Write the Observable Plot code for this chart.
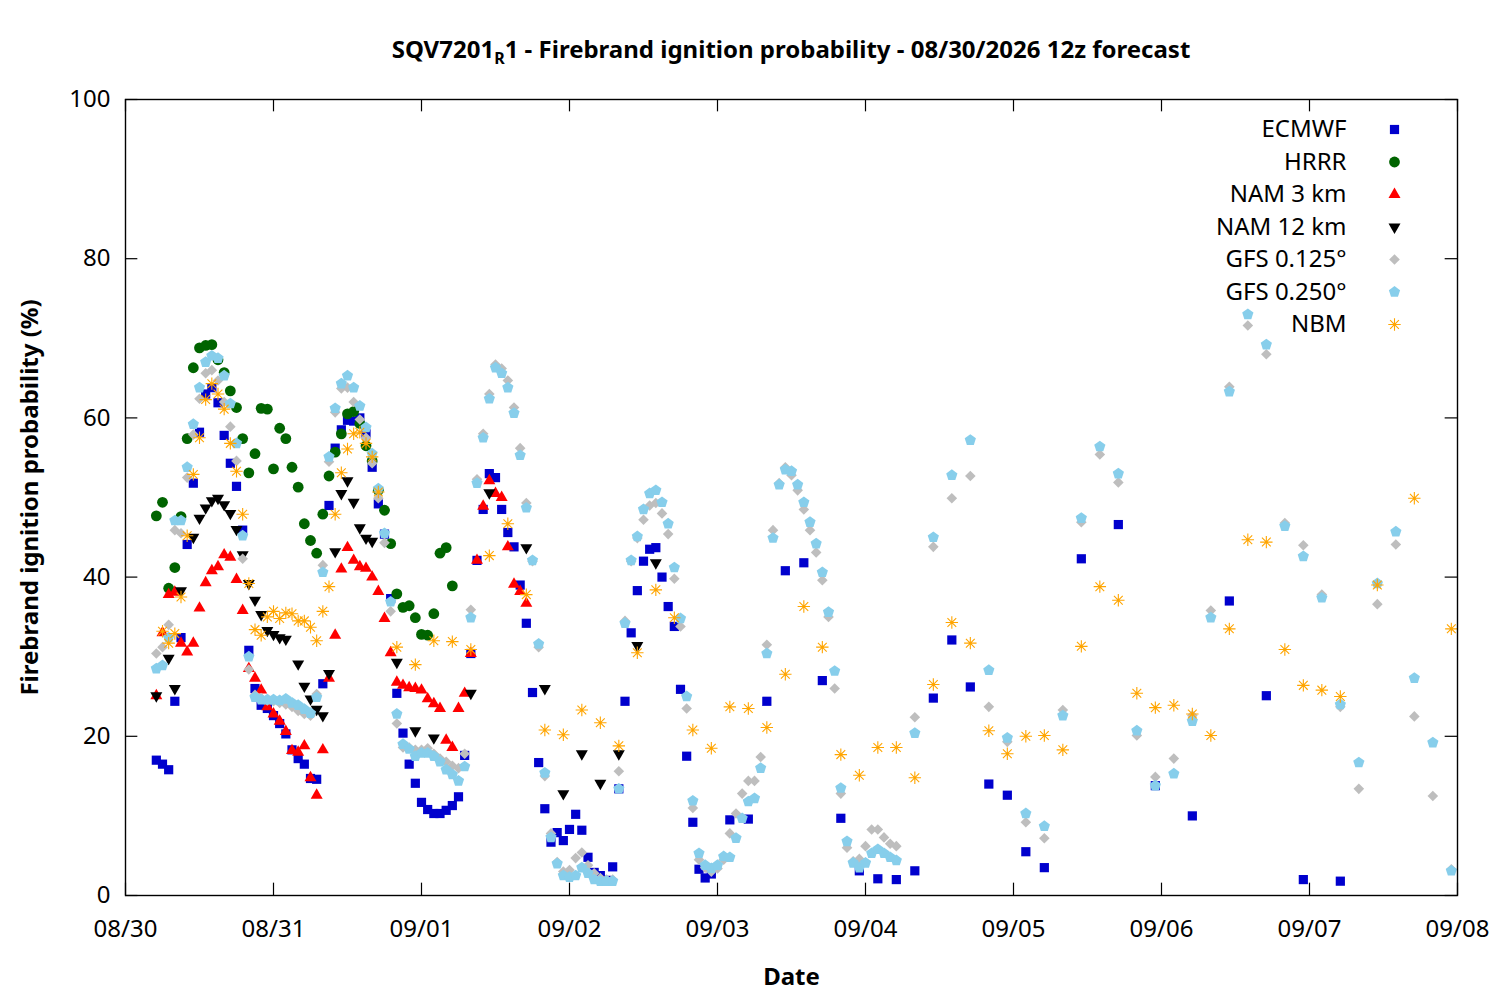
<!DOCTYPE html>
<html><head><meta charset="utf-8">
<script src="https://cdn.jsdelivr.net/npm/d3@7"></script>
<script src="https://cdn.jsdelivr.net/npm/@observablehq/plot@0.6"></script>
<style>body{margin:0;background:#fff;} #chart svg{display:block;}</style>
</head><body><div id="chart"></div>
<script>
// ---------- data (hours after 08/30 05:00, i.e. 12z init) ----------
const ecmwfHours = [...d3.range(0, 91), ...d3.range(93, 145, 3), ...d3.range(150, 193, 6)];
const ecmwfValues = [17.0,16.5,15.8,24.4,32.4,44.1,51.8,58.2,63.0,63.8,
  61.9,57.8,54.3,51.4,45.9,30.8,26.0,23.9,23.5,22.6,
  21.6,20.3,18.3,17.2,16.5,14.7,14.6,26.6,49.0,56.2,
  58.5,59.7,59.6,60.0,58.0,53.8,49.2,45.4,37.3,25.4,
  20.4,16.5,14.1,11.7,10.8,10.3,10.3,10.7,11.3,12.4,
  17.6,30.4,42.1,48.5,53.0,52.5,48.5,45.6,43.8,39.0,
  34.2,25.5,16.7,10.9,6.7,7.9,6.9,8.3,10.2,8.2,
  4.8,2.9,2.5,1.9,3.6,13.4,24.4,33.0,38.3,42.0,
  43.5,43.7,40.0,36.3,33.8,25.9,17.5,9.2,3.3,2.2,2.7,
  9.5,9.6,24.4,40.8,41.8,27.0,9.7,3.1,2.1,2.0,3.1,24.8,32.1,26.2,14.0,12.6,5.5,3.5,
  42.3,46.6,13.8,10.0,37.0,25.1,2.0,1.8];

const hrrrHours = d3.range(0, 49);
const hrrrValues = [47.7,49.4,38.6,41.2,47.6,57.4,66.3,68.8,69.1,69.2,
  67.3,65.7,63.4,61.3,57.4,53.1,55.5,61.2,61.1,53.6,
  58.7,57.4,53.8,51.3,46.7,44.6,43.0,47.9,52.7,55.7,
  58.0,60.5,60.8,59.3,56.5,54.6,50.9,48.4,44.2,37.9,
  36.2,36.4,34.9,32.8,32.7,35.4,43.0,43.7,38.9];

const nam3Hours = d3.range(0, 61);
const nam3Values = [25.1,33.0,37.8,38.1,31.7,30.6,31.7,36.1,39.3,40.8,
  41.3,42.8,42.5,39.7,35.8,28.5,27.3,25.8,23.7,22.8,
  21.9,20.6,18.2,18.0,18.8,14.8,12.6,18.3,27.3,32.7,
  41.0,43.7,42.1,41.3,41.1,40.0,38.2,34.8,30.5,26.8,
  26.4,26.1,26.0,25.8,24.7,24.1,23.5,19.5,18.6,23.5,
  25.4,30.4,42.1,48.9,52.1,50.5,50.0,43.8,39.1,38.2,36.7];

const nam12Hours = [...d3.range(0, 37), ...d3.range(39, 82, 3)];
const nam12Values = [25.1,null,29.8,26.0,38.3,null,45.0,47.4,48.7,49.6,
  49.9,49.1,48.0,46.0,42.8,39.2,37.1,35.3,33.3,32.8,
  32.4,32.2,null,29.1,26.3,24.7,23.4,22.6,27.9,43.2,
  50.5,52.1,49.4,46.2,44.9,44.5,null,
  29.3,20.7,19.8,null,25.4,50.6,null,43.7,26.0,12.8,17.8,14.1,17.8,31.4,41.8];

const gfsHours = [...d3.range(0, 121), ...d3.range(123, 211, 3)];
const gfs0125Values = [30.4,31.2,34.0,45.9,45.5,52.5,57.9,62.4,65.6,66.0,
  64.7,62.0,58.9,54.6,42.3,28.4,25.2,24.8,24.5,24.4,
  24.2,24.0,23.7,23.2,22.8,22.6,25.3,41.5,54.5,60.7,
  63.7,63.8,62.0,59.8,57.5,54.3,49.9,44.3,35.7,21.6,
  18.6,18.6,18.3,18.3,18.5,17.8,17.2,16.8,16.3,16.0,
  17.8,35.9,52.3,58.0,63.0,66.7,66.2,64.7,61.3,56.2,
  49.3,42.0,31.2,15.0,7.8,4.2,3.0,3.2,4.7,5.4,
  3.8,2.8,2.2,2.0,2.0,15.6,34.5,42.0,44.9,47.2,
  49.0,49.3,48.0,45.4,39.8,33.8,23.5,11.0,4.5,3.5,
  3.0,3.4,4.5,7.8,10.3,12.8,14.4,14.4,17.4,31.5,
  45.9,51.8,53.8,52.8,50.9,48.5,45.9,43.1,39.6,35.0,
  26.0,12.8,6.0,4.3,4.6,6.2,8.3,8.3,7.3,6.5,6.2,
  22.4,43.8,49.9,52.7,23.7,19.3,9.2,7.2,23.3,46.9,
  55.4,51.9,20.1,14.9,17.2,22.6,35.8,63.9,71.6,68.0,
  46.8,44.0,37.8,23.7,13.4,36.6,44.1,22.5,12.5,3.3];
const gfs0250Values = [28.5,28.9,32.4,47.1,47.1,53.8,59.2,63.8,67.0,67.8,
  67.5,65.3,61.8,56.8,45.2,30.0,24.9,24.6,24.6,24.6,
  24.5,24.7,24.2,23.9,23.4,22.9,24.9,40.6,55.1,61.2,
  64.3,65.3,63.8,61.5,58.8,55.5,51.1,45.5,36.9,22.8,
  19.0,18.4,17.5,17.9,17.9,17.5,16.8,15.8,15.2,14.4,
  16.2,34.9,51.8,57.5,62.4,66.3,65.6,63.8,60.6,55.3,
  48.7,42.1,31.6,15.4,7.3,4.0,2.5,2.3,2.5,3.5,
  2.8,2.0,1.8,1.8,1.8,13.4,34.2,42.1,45.1,48.5,
  50.5,50.9,49.4,46.7,41.2,34.8,25.0,11.9,5.3,3.8,
  3.4,3.8,4.9,4.8,7.2,9.7,11.8,12.2,16.0,30.4,
  44.9,51.6,53.5,53.3,51.6,49.4,46.9,44.2,40.6,35.6,
  28.2,13.5,6.8,4.1,3.5,4.1,5.3,5.8,5.3,4.8,4.4,
  20.4,45.0,52.8,57.2,28.3,19.8,10.3,8.7,22.6,47.4,
  56.4,53.0,20.7,13.8,15.3,21.9,34.9,63.3,73.0,69.2,
  46.4,42.6,37.4,24.0,16.7,39.2,45.7,27.3,19.2,3.1];

const nbmHours = [...d3.range(1, 37), ...d3.range(39, 193, 3), 198, 204, 210];
const nbmValues = [33.2,31.7,32.9,37.5,45.2,52.9,57.5,62.3,64.3,63.0,
  61.1,56.8,53.3,47.9,39.2,33.4,32.7,35.0,35.7,34.8,
  35.5,35.4,34.5,34.5,33.7,32.0,35.7,38.8,47.9,53.1,
  56.1,58.0,58.2,56.8,55.1,50.7,
  31.2,29.0,32.0,31.9,30.9,42.7,46.7,37.8,20.8,20.2,
  23.3,21.7,18.8,30.5,38.4,34.9,20.8,18.5,23.7,23.5,
  21.1,27.8,36.3,31.2,17.7,15.1,18.6,18.6,14.8,26.5,
  34.3,31.7,20.7,17.8,20.0,20.1,18.3,31.3,38.8,37.1,
  25.4,23.6,23.9,22.8,20.1,33.5,44.7,44.4,30.9,26.4,
  25.8,25.0,
  39.0,49.9,33.5];

const modelNames = ["ECMWF", "HRRR", "NAM 3 km", "NAM 12 km", "GFS 0.125°", "GFS 0.250°", "NBM"];
const modelColors = ["#0000cd", "#006400", "#ff0000", "#000000", "#bebebe", "#87ceeb", "#ffa500"];
const yTicks = [0, 20, 40, 60, 80, 100];
const xTickLabels = ["08/30","08/31","09/01","09/02","09/03","09/04","09/05","09/06","09/07","09/08"];
const titleMain = "SQV7201";
const titleSub = "R";
const titleRest = "1 - Firebrand ignition probability - 08/30/2026 12z forecast";
const xLabel = "Date";
const yLabel = "Firebrand ignition probability (%)";

// ---------- build ----------
const base = Date.UTC(2026, 7, 30, 5);
const toDate = h => new Date(base + h * 3600e3);
const xStart = new Date(Date.UTC(2026, 7, 30));
const xEnd = new Date(Date.UTC(2026, 8, 8));
const xTicks = xTickLabels.map((_, i) => new Date(Date.UTC(2026, 7, 30 + i)));

function rows(hours, values) {
  return hours.map((h, i) => ({t: toDate(h), v: values[i]})).filter(d => d.v != null);
}
const seriesData = [
  rows(ecmwfHours, ecmwfValues),
  rows(hrrrHours, hrrrValues),
  rows(nam3Hours, nam3Values),
  rows(nam12Hours, nam12Values),
  rows(gfsHours, gfs0125Values),
  rows(gfsHours, gfs0250Values),
  rows(nbmHours, nbmValues)
];

// symbols (r = sqrt(size/PI) is used as half-extent)
const R = size => Math.sqrt(size / Math.PI);
const symSquare = {draw(c, s){ const r = R(s); c.rect(-r, -r, 2*r, 2*r); }};
const symCircle = {draw(c, s){ const r = R(s); c.moveTo(r, 0); c.arc(0, 0, r, 0, 2*Math.PI); }};
const symTriUp = {draw(c, s){ const r = R(s); const h = r * Math.sqrt(3); c.moveTo(0, -h*2/3); c.lineTo(r, h/3); c.lineTo(-r, h/3); c.closePath(); }};
const symTriDown = {draw(c, s){ const r = R(s); const h = r * Math.sqrt(3); c.moveTo(0, h*2/3); c.lineTo(r, -h/3); c.lineTo(-r, -h/3); c.closePath(); }};
const symDiamond = {draw(c, s){ const r = R(s); c.moveTo(0, -r); c.lineTo(r, 0); c.lineTo(0, r); c.lineTo(-r, 0); c.closePath(); }};
const symPentagon = {draw(c, s){ const r = R(s); for (let k = 0; k < 5; k++) { const a = -Math.PI/2 + k*2*Math.PI/5; const x = r*Math.cos(a), y = r*Math.sin(a); if (k) c.lineTo(x, y); else c.moveTo(x, y); } c.closePath(); }};
const symAsterisk = {draw(c, s){ const r = R(s); for (let k = 0; k < 4; k++) { const a = k*Math.PI/4; c.moveTo(r*Math.cos(a), r*Math.sin(a)); c.lineTo(-r*Math.cos(a), -r*Math.sin(a)); } }};

const styles = [
  {symbol: symSquare, r: 4.6, fill: modelColors[0], stroke: "none"},
  {symbol: symCircle, r: 5.4, fill: modelColors[1], stroke: "none"},
  {symbol: symTriUp, r: 6.0, fill: modelColors[2], stroke: "none"},
  {symbol: symTriDown, r: 6.0, fill: modelColors[3], stroke: "none"},
  {symbol: symDiamond, r: 5.3, fill: modelColors[4], stroke: "none"},
  {symbol: symPentagon, r: 5.9, fill: modelColors[5], stroke: "none"},
  {symbol: symAsterisk, r: 6.2, fill: "none", stroke: modelColors[6], strokeWidth: 1.1}
];

const tickLenH = 2 * 3600e3; // inward tick length along x (~12px)
const tickLenV = 1.55;        // inward tick length along y (~12px)
const FS = 24;

const marks = [
  Plot.axisX({ticks: xTicks, tickFormat: (d, i) => xTickLabels[i], tickSize: 0, tickPadding: 24, label: null, fontSize: FS}),
  Plot.axisY({ticks: yTicks, tickSize: 0, tickPadding: 15, label: null, fontSize: FS}),
  // inward ticks (bottom/top, left/right)
  Plot.ruleX(xTicks, {x: d => d, y1: 0, y2: tickLenV, stroke: "black", strokeWidth: 1.2}),
  Plot.ruleX(xTicks, {x: d => d, y1: 100 - tickLenV, y2: 100, stroke: "black", strokeWidth: 1.2}),
  Plot.ruleY(yTicks, {y: d => d, x1: xStart, x2: new Date(+xStart + tickLenH), stroke: "black", strokeWidth: 1.2}),
  Plot.ruleY(yTicks, {y: d => d, x1: new Date(+xEnd - tickLenH), x2: xEnd, stroke: "black", strokeWidth: 1.2}),
];
seriesData.forEach((data, i) => {
  marks.push(Plot.dot(data, {x: "t", y: "v", ...styles[i]}));
});
// legend
modelNames.forEach((name, i) => {
  const dy = 30 + i * 32.5;
  marks.push(Plot.text([name], {frameAnchor: "top-right", text: d => d, dx: -111, dy, textAnchor: "end", lineAnchor: "middle", fontSize: FS, fill: "black"}));
  marks.push(Plot.dot([name], {frameAnchor: "top-right", dx: -63, dy, ...styles[i]}));
});
marks.push(Plot.text([xLabel], {frameAnchor: "bottom", text: d => d, dy: 82, textAnchor: "middle", lineAnchor: "middle", fontSize: FS, fontWeight: "bold", fill: "black"}));
marks.push(Plot.text([yLabel], {frameAnchor: "left", text: d => d, dx: -95, rotate: -90, textAnchor: "middle", lineAnchor: "middle", fontSize: FS, fontWeight: "bold", fill: "black"}));
marks.push(Plot.frame({stroke: "black", strokeWidth: 1.4}));

const svg = Plot.plot({
  width: 1500, height: 1000,
  marginLeft: 125, marginRight: 43, marginTop: 99, marginBottom: 105,
  style: {fontFamily: "'Noto Sans', 'Open Sans', sans-serif", fontSize: FS + "px", color: "black", background: "white", overflow: "visible"},
  x: {type: "utc", domain: [xStart, xEnd]},
  y: {domain: [0, 100]},
  marks
});

// title with subscript
const title = d3.select(svg).append("text")
  .attr("x", 791).attr("y", 58)
  .attr("text-anchor", "middle")
  .attr("font-family", "'Noto Sans', 'Open Sans', sans-serif")
  .attr("font-weight", "bold").attr("font-size", FS).attr("fill", "black");
title.append("tspan").text(titleMain);
title.append("tspan").attr("font-size", 16).attr("dy", 6).text(titleSub);
title.append("tspan").attr("dy", -6).text(titleRest);

document.getElementById("chart").appendChild(svg);
</script></body></html>
